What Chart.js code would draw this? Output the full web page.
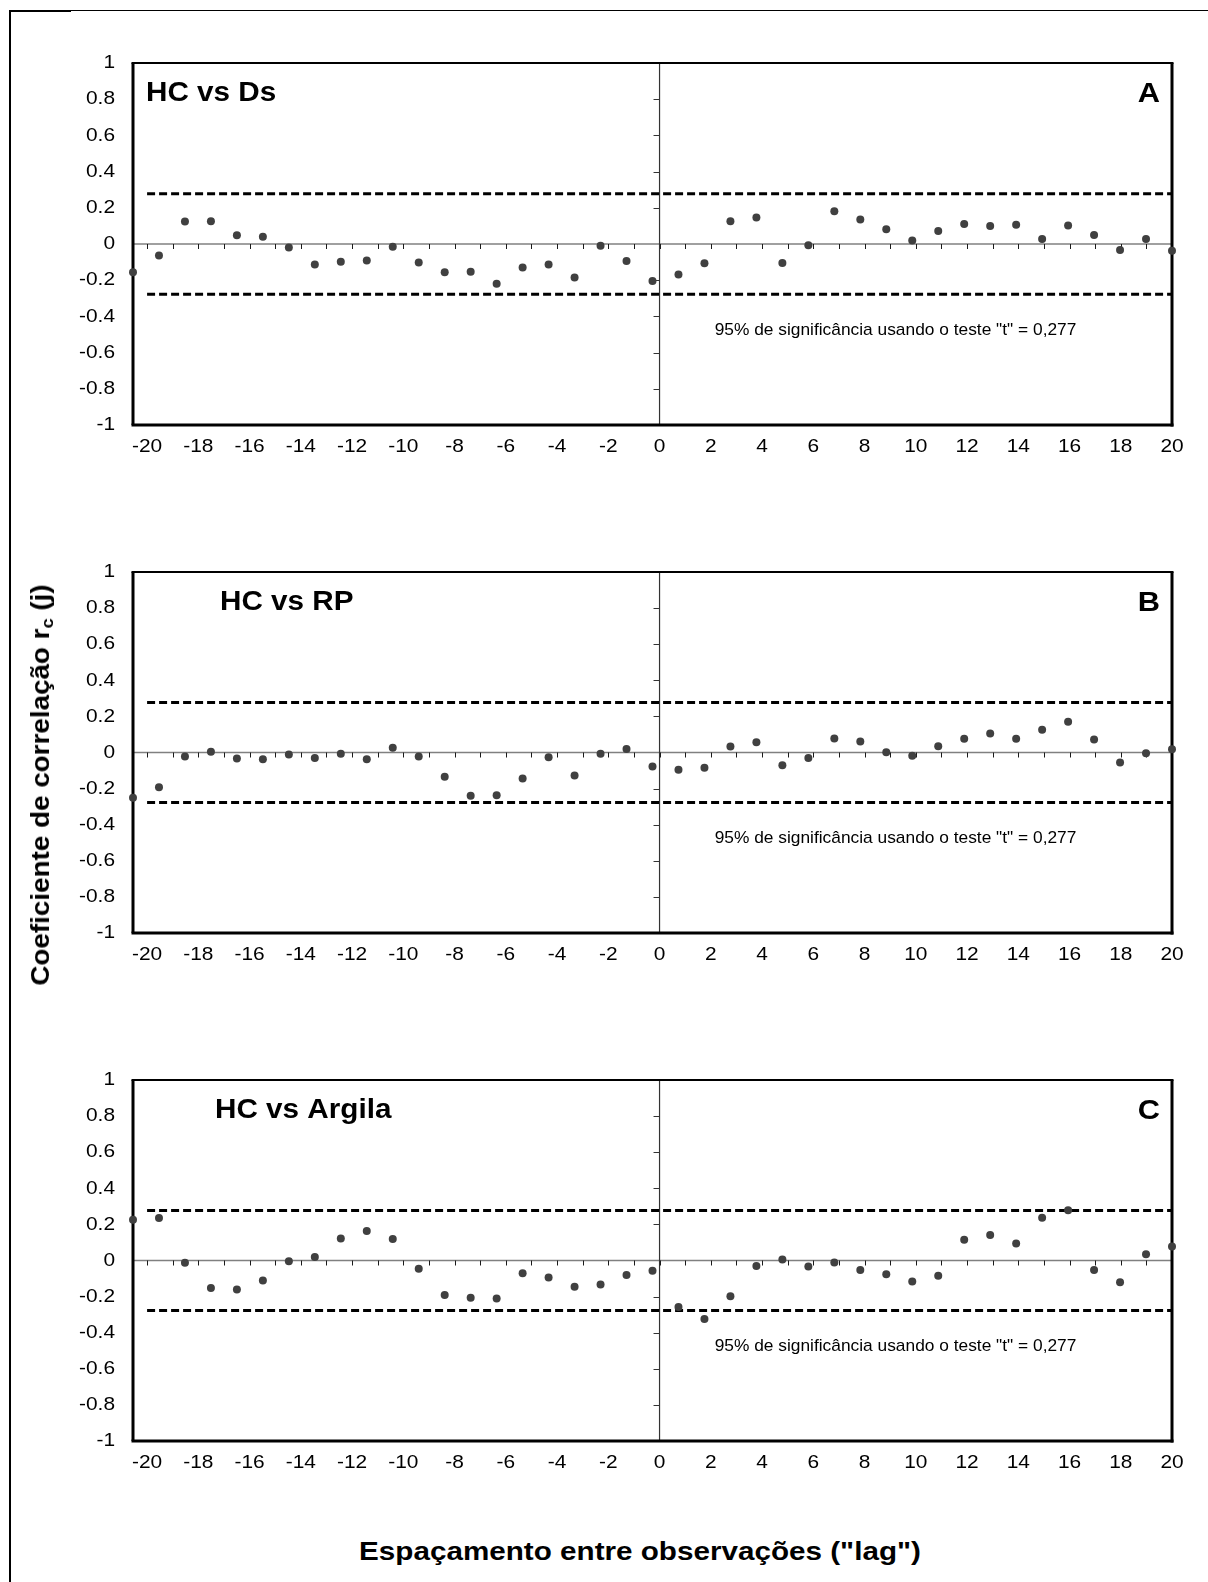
<!DOCTYPE html>
<html>
<head>
<meta charset="utf-8">
<script src="https://cdn.jsdelivr.net/npm/chart.js@4.4.1/dist/chart.umd.min.js"></script>
<style>
html,body{margin:0;padding:0;background:#fff;}
#page{position:relative;width:1208px;height:1582px;overflow:hidden;background:#fff;font-family:"Liberation Sans",Arial,sans-serif;color:#000;}
canvas{position:absolute;left:0;}
.ln{position:absolute;background:#000;}
.title{position:absolute;white-space:nowrap;font-weight:bold;font-size:26px;line-height:30px;}
.title sub{font-size:17px;vertical-align:-4px;line-height:0;}
</style>
</head>
<body>
<div id="page">
  <div class="ln" style="left:10px;top:10px;width:1198px;height:1px;"></div>
  <div class="ln" style="left:10px;top:10px;width:61px;height:2px;"></div>
  <div class="ln" style="left:9px;top:10px;width:2px;height:1572px;"></div>
  <canvas id="c0"></canvas>
  <canvas id="c1"></canvas>
  <canvas id="c2"></canvas>
  <div class="title" id="ytitle" style="left:40px;top:785px;transform:translate(-50%,-50%) rotate(-90deg) scaleX(1.07);">Coeficiente de correlação r<sub>c</sub> (j)</div>
  <div class="title" id="xtitle" style="left:640px;top:1551px;transform:translate(-50%,-50%) scaleX(1.14);">Espaçamento entre observações ("lag")</div>
</div>
<script>
// ---------------- DATA ----------------
const lags = [-20,-19,-18,-17,-16,-15,-14,-13,-12,-11,-10,-9,-8,-7,-6,-5,-4,-3,-2,-1,0,
              1,2,3,4,5,6,7,8,9,10,11,12,13,14,15,16,17,18,19,20];

const hcDs = [-0.156,-0.063,0.124,0.126,0.049,0.040,-0.019,-0.113,-0.098,-0.091,-0.015,
              -0.102,-0.156,-0.154,-0.220,-0.130,-0.113,-0.185,-0.009,-0.094,-0.205,
              -0.168,-0.107,0.126,0.146,-0.105,-0.007,0.181,0.135,0.081,0.020,
              0.072,0.111,0.100,0.107,0.028,0.102,0.050,-0.033,0.028,-0.037];

const hcRp = [-0.250,-0.192,-0.022,0.004,-0.033,-0.037,-0.011,-0.030,-0.007,-0.037,0.026,
              -0.022,-0.135,-0.240,-0.237,-0.144,-0.026,-0.128,-0.007,0.020,-0.078,
              -0.096,-0.085,0.033,0.057,-0.070,-0.030,0.078,0.061,0.002,-0.018,
              0.035,0.076,0.105,0.076,0.126,0.170,0.072,-0.055,-0.004,0.018];

const hcArgila = [0.226,0.235,-0.013,-0.152,-0.161,-0.111,-0.004,0.019,0.122,0.163,0.119,
                  -0.046,-0.191,-0.207,-0.211,-0.070,-0.094,-0.146,-0.133,-0.081,-0.057,
                  -0.257,-0.324,-0.198,-0.031,0.006,-0.033,-0.011,-0.052,-0.076,-0.117,
                  -0.085,0.115,0.141,0.094,0.237,0.278,-0.052,-0.120,0.035,0.078];

const xTickLabels = [-20,-18,-16,-14,-12,-10,-8,-6,-4,-2,0,2,4,6,8,10,12,14,16,18,20];
const yTickLabels = [-1,-0.8,-0.6,-0.4,-0.2,0,0.2,0.4,0.6,0.8,1];
const tCritical = 0.277;
const panelTitles = ['HC vs Ds','HC vs RP','HC vs Argila'];
const panelLetters = ['A','B','C'];
const noteText = '95% de significância usando o teste "t" = 0,277';
const seriesList = [hcDs, hcRp, hcArgila];

// ---------------- LAYOUT (styling only) ----------------
const FONT = '"Liberation Sans", Arial, sans-serif';
const panels = [
  {top:63,  bottom:425,  titleX:146},
  {top:572, bottom:933,  titleX:220},
  {top:1080,bottom:1441, titleX:215}
];
const PLOT_LEFT = 133, PLOT_RIGHT = 1172, PAD_TOP = 40, PAD_BOTTOM = 50, W = 1208;

function drawText(ctx, s, x, y, font, align, sx){
  ctx.save();
  ctx.font = font;
  ctx.fillStyle = '#000';
  ctx.textBaseline = 'middle';
  ctx.textAlign = align;
  ctx.translate(x, y);
  ctx.scale(sx, 1);
  ctx.fillText(s, 0, 0);
  ctx.restore();
}
function seg(ctx, x1, y1, x2, y2){
  ctx.beginPath(); ctx.moveTo(x1, y1); ctx.lineTo(x2, y2); ctx.stroke();
}

const decor = {
  id: 'decor',
  beforeDatasetsDraw(chart){
    const {ctx, chartArea:a, scales} = chart;
    const xt = scales.xt, y = scales.y;
    const y0 = y.getPixelForValue(0);
    const x0 = xt.getPixelForValue(0);
    ctx.save();
    // horizontal zero axis
    ctx.strokeStyle = '#808080'; ctx.lineWidth = 1.5;
    seg(ctx, a.left, y0, a.right, y0);
    // minor ticks on zero axis (every unit)
    ctx.strokeStyle = '#1a1a1a'; ctx.lineWidth = 1;
    const lo = xTickLabels[0], hi = xTickLabels[xTickLabels.length-1];
    for (let v = lo; v <= hi; v++){
      const px = Math.round(xt.getPixelForValue(v)) + 0.5;
      seg(ctx, px, y0, px, y0 + 5);
    }
    // vertical axis at lag 0
    ctx.strokeStyle = '#333'; ctx.lineWidth = 1.2;
    seg(ctx, x0, a.top, x0, a.bottom);
    ctx.lineWidth = 1;
    yTickLabels.forEach(v => {
      if (v === 0) return;
      const py = Math.round(y.getPixelForValue(v)) + 0.5;
      seg(ctx, x0 - 6, py, x0, py);
    });
    // plot box
    ctx.strokeStyle = '#000';
    ctx.lineWidth = 2;
    seg(ctx, a.left - 1.5, a.top, a.right + 1.5, a.top);
    ctx.lineWidth = 3;
    seg(ctx, a.left, a.top, a.left, a.bottom);
    seg(ctx, a.right, a.top, a.right, a.bottom + 1.5);
    seg(ctx, a.left - 1.5, a.bottom, a.right + 1.5, a.bottom);
    ctx.restore();
  },
  afterDraw(chart){
    const {ctx, chartArea:a, scales} = chart;
    const xt = scales.xt, y = scales.y;
    const i = chart.options.plugins.decor.index;
    // y tick labels
    yTickLabels.forEach(v => {
      drawText(ctx, String(v), a.left - 18, y.getPixelForValue(v), '19px ' + FONT, 'right', 1.1);
    });
    // x tick labels
    xTickLabels.forEach(v => {
      drawText(ctx, String(v), xt.getPixelForValue(v), a.bottom + 22, '19px ' + FONT, 'center', 1.1);
    });
    // panel title & letter
    drawText(ctx, panelTitles[i], panels[i].titleX, a.top + 30, 'bold 28px ' + FONT, 'left', 1.06);
    drawText(ctx, panelLetters[i], a.right - 12, a.top + 31, 'bold 28px ' + FONT, 'right', 1.1);
    // significance note
    drawText(ctx, noteText, xt.getPixelForValue(2.15), y.getPixelForValue(-0.475), '17px ' + FONT, 'left', 1.02);
  }
};

panels.forEach((p, i) => {
  const cv = document.getElementById('c' + i);
  const h = (p.bottom - p.top) + PAD_TOP + PAD_BOTTOM;
  cv.width = W; cv.height = h;
  cv.style.top = (p.top - PAD_TOP) + 'px';
  cv.style.width = W + 'px'; cv.style.height = h + 'px';
  const vals = seriesList[i];
  const lo = xTickLabels[0], hi = xTickLabels[xTickLabels.length-1];
  new Chart(cv, {
    type: 'scatter',
    data: {
      datasets: [
        {
          data: lags.map((l, k) => ({x: l, y: vals[k]})),
          xAxisID: 'x', yAxisID: 'y',
          pointRadius: 4, pointHoverRadius: 4,
          backgroundColor: '#404040', borderColor: '#404040', borderWidth: 0,
          clip: false
        },
        {
          data: [{x: lo, y: tCritical}, {x: hi, y: tCritical}],
          xAxisID: 'xt', yAxisID: 'y', showLine: true,
          borderColor: '#000', borderWidth: 3, borderDash: [8, 4],
          pointRadius: 0, fill: false
        },
        {
          data: [{x: lo, y: -tCritical}, {x: hi, y: -tCritical}],
          xAxisID: 'xt', yAxisID: 'y', showLine: true,
          borderColor: '#000', borderWidth: 3, borderDash: [8, 4],
          pointRadius: 0, fill: false
        }
      ]
    },
    options: {
      responsive: false,
      animation: false,
      devicePixelRatio: 1,
      layout: {padding: {left: PLOT_LEFT, right: W - PLOT_RIGHT, top: PAD_TOP, bottom: PAD_BOTTOM}},
      scales: {
        x:  {type: 'linear', min: -20, max: 20, display: false},
        xt: {type: 'linear', min: -20.55, max: 20, display: false},
        y:  {type: 'linear', min: -1, max: 1, display: false}
      },
      plugins: {
        legend: {display: false},
        tooltip: {enabled: false},
        decor: {index: i}
      },
      events: []
    },
    plugins: [decor]
  });
});
</script>
</body>
</html>
